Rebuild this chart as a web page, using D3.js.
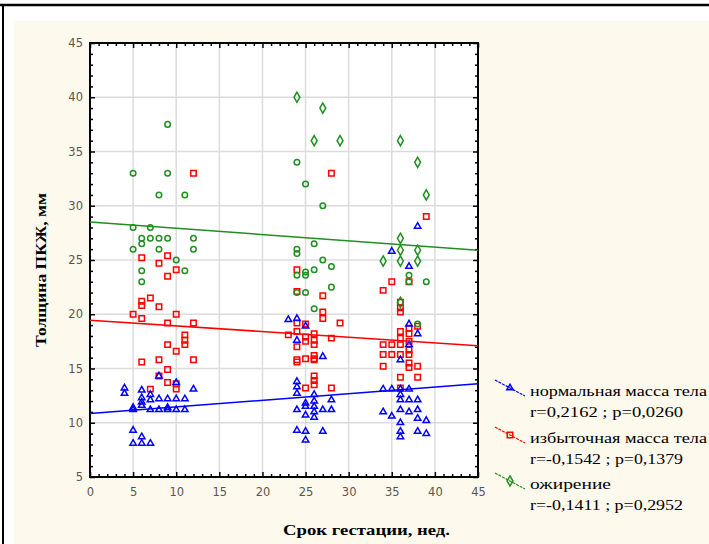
<!DOCTYPE html>
<html>
<head>
<meta charset="utf-8">
<script src="https://cdn.jsdelivr.net/npm/d3@7"></script>
<style>
  body { margin: 0; background: #ffffff; }
</style>
</head>
<body>
<div id="chart"></div>
<script>
// points: [gestation week, thickness mm]
var normalPts = [
  [4,13.2],[4,12.7],[6,13],[6,12.3],[7,12.6],[7,12.1],[8,14.3],[8,12.2],[9,12.2],[10,12.2],
  [11,12.2],[10,13.7],[12,13.1],[6,11.9],[5,11.4],[5,11.2],[7,11.2],[8,11.2],[9,11.2],[10,11.2],
  [11,11.2],[9,11.4],[6,11.6],[5,9.3],[5,8.1],[6,8.7],[6,8.1],[7,8.1],
  [23,19.5],[24,19.6],[25,18.9],[24,17.6],[27,16.1],[24,13.8],[24,13.3],[24,12.7],[25,11.8],[25,11.5],
  [25,10.7],[24,11.2],[26,12.6],[26,12],[26,11.5],[26,11],[26,10.5],[27,11.2],[28,12.1],[28,11.2],
  [24,9.3],[25,9.2],[25,8.4],[27,9.2],
  [38,28.1],[35,25.8],[37,24.4],[37,19.1],[38,18.2],[37,17.2],[36,15.8],[34,13.1],[35,13.1],[36,13.1],
  [37,13.1],[36,12.6],[36,12.1],[37,12.1],[38,12.1],[36,11.2],[37,11],[38,11.2],[34,11],[35,10.6],
  [36,10],[38,10.4],[39,10.2],[36,9.2],[36,8.7],[38,9.2],[39,9]
];
var excessPts = [
  [12,33],[6,25.2],[8,24.7],[9,25.4],[10,24.1],[9,23.5],[6,21.2],[7,21.5],[6,20.8],[8,20.7],
  [5,20],[6,19.6],[10,20],[9,19.2],[12,19.2],[11,18.1],[11,17.6],[11,17.2],[9,17.2],[10,16.6],
  [6,15.6],[8,15.8],[12,15.8],[9,14.9],[8,14.3],[9,13.7],[10,13.6],[10,13.1],[7,13.1],
  [28,33],[24,24.1],[24,22.1],[27,21.7],[27,20.2],[27,19.6],[29,19.2],[24,19.2],[25,19.1],[23,18.1],
  [24,18.4],[25,17.9],[25,17.5],[26,18.2],[26,17.6],[26,17.2],[28,17.8],[24,17],[24,15.8],[24,15.6],
  [25,15.9],[26,16.2],[26,15.9],[26,15.8],[26,14.3],[26,13.9],[26,13.5],[25,13.2],[28,13.2],
  [39,29],[35,23],[37,23],[34,22.2],[36,21.1],[36,20.6],[36,20.2],[37,18.7],[37,18.2],[38,18.9],
  [36,18.4],[36,17.8],[34,17.2],[35,17.2],[36,17.2],[37,17.5],[34,16.3],[35,16.3],[36,16.3],[37,16.7],
  [37,16.3],[37,15.5],[37,15.1],[38,15.2],[34,15.2],[36,14.2],[38,14.2],[36,13.2]
];
var obeseCirclePts = [
  [5,33],[9,33],[9,37.5],[8,31],[11,31],[5,28],[7,28],[6,27],[7,27],[8,27],
  [9,27],[12,27],[6,26.5],[8,26],[12,26],[5,26],[10,25],[11,24],[6,24],[6,23],
  [24,34],[25,32],[27,30],[24,26],[24,25.6],[26,26.5],[24,23.6],[25,23.9],[25,23.6],[26,24.1],
  [27,25],[28,24.4],[28,22.5],[24,22],[25,22],[26,20.5],
  [37,23.6],[37,23],[39,23],[38,19.1]
];
var obeseDiamondPts = [
  [24,40],[27,39],[26,36],[29,36],[36,36],[38,34],[39,31],[36,27],[36,25.9],[38,25.9],
  [34,24.9],[36,24.9],[38,24.9],[36,21.1]
];

// fitted lines, value at x = 0 and x = 45
var fitX = [0, 45];
var normalFit = [10.85, 13.6];
var excessFit = [19.45, 17.1];
var obeseFit = [28.5, 25.9];

var legendNames = ['нормальная масса тела', 'избыточная масса тела', 'ожирение'];
var legendStats = ['r=0,2162 ; p=0,0260', 'r=-0,1542 ; p=0,1379', 'r=-0,1411 ; p=0,2952'];

var xTitle = 'Срок гестации, нед.';
var yTitle = 'Толщина ПКЖ, мм';

var width = 709;
var height = 544;
var blue = '#0000ff', red = '#ff0000', green = '#1f8f1f';

var svg = d3.select('#chart').append('svg')
      .attr('width', width)
      .attr('height', height)
      .style('display', 'block')

// page frame and beige graph background
svg.append('rect').attr('x', 14).attr('y', 21).attr('width', width - 14).attr('height', height - 21)
      .attr('fill', '#fdf9ed')
svg.append('line').attr('x1', 0).attr('x2', width).attr('y1', 5).attr('y2', 5)
      .attr('stroke', '#000').attr('stroke-width', 2.5)
svg.append('line').attr('x1', 3).attr('x2', 3).attr('y1', 5).attr('y2', height)
      .attr('stroke', '#000').attr('stroke-width', 2)

var xScale = d3.scaleLinear().domain([0, 45]).range([90, 478])
var yScale = d3.scaleLinear().domain([5, 45]).range([477, 43])

// white plot area
svg.append('rect')
      .attr('x', xScale(0)).attr('y', yScale(45))
      .attr('width', xScale(45) - xScale(0)).attr('height', yScale(5) - yScale(45))
      .attr('fill', '#fff')

// grid at the major ticks
var grid = svg.append('g').attr('stroke', '#dcdcdc').attr('stroke-width', 1.5)
grid.selectAll('.gx').data(d3.range(5, 45, 5)).enter().append('line')
      .attr('x1', d => xScale(d)).attr('x2', d => xScale(d))
      .attr('y1', yScale(45)).attr('y2', yScale(5))
grid.selectAll('.gy').data(d3.range(10, 45, 5)).enter().append('line')
      .attr('y1', d => yScale(d)).attr('y2', d => yScale(d))
      .attr('x1', xScale(0)).attr('x2', xScale(45))

// axes: majors every 5, minors every 1, all pointing inwards
var xMajor = d3.range(0, 46, 5);
var yMajor = d3.range(5, 46, 5);
var xMinor = d3.range(0, 46).filter(d => d % 5);
var yMinor = d3.range(5, 46).filter(d => d % 5);

function drawAxis(axis, tx, ty) {
      var g = svg.append('g')
            .attr('transform', 'translate(' + tx + ',' + ty + ')')
            .call(axis)
      g.select('.domain').remove()
      g.selectAll('line').attr('stroke', '#000').attr('stroke-width', 1.5)
      g.selectAll('text').attr('fill', '#5a5550').style('font-family', 'Tahoma, "DejaVu Sans", sans-serif').style('font-size', '11.5px')
      return g
}

drawAxis(d3.axisBottom(xScale).tickValues(xMajor).tickSize(-5).tickPadding(11), 0, yScale(5))
drawAxis(d3.axisBottom(xScale).tickValues(xMinor).tickSize(-3).tickFormat(''), 0, yScale(5))
drawAxis(d3.axisTop(xScale).tickValues(xMajor).tickSize(-5).tickFormat(''), 0, yScale(45))
drawAxis(d3.axisTop(xScale).tickValues(xMinor).tickSize(-3).tickFormat(''), 0, yScale(45))
drawAxis(d3.axisLeft(yScale).tickValues(yMajor).tickSize(-5).tickPadding(7), xScale(0), 0)
drawAxis(d3.axisLeft(yScale).tickValues(yMinor).tickSize(-3).tickFormat(''), xScale(0), 0)
drawAxis(d3.axisRight(yScale).tickValues(yMajor).tickSize(-5).tickFormat(''), xScale(45), 0)
drawAxis(d3.axisRight(yScale).tickValues(yMinor).tickSize(-3).tickFormat(''), xScale(45), 0)

// plot frame
svg.append('rect')
      .attr('x', xScale(0)).attr('y', yScale(45))
      .attr('width', xScale(45) - xScale(0)).attr('height', yScale(5) - yScale(45))
      .attr('fill', 'none').attr('stroke', '#000').attr('stroke-width', 2)

// markers
var triangle = d3.symbol().type(d3.symbolTriangle).size(18);
var square = d3.symbol().type(d3.symbolSquare).size(30);
var circle = d3.symbol().type(d3.symbolCircle).size(24);
var diamond = d3.symbol().type(d3.symbolDiamond).size(30);

function drawPoints(pts, shape, color) {
      svg.append('g').selectAll('path')
            .data(pts)
            .enter()
            .append('path')
            .attr('d', shape)
            .attr('transform', d => 'translate(' + xScale(d[0]) + ',' + yScale(d[1]) + ')')
            .attr('fill', 'none')
            .attr('stroke', color)
            .attr('stroke-width', 1.5)
}

drawPoints(excessPts, square, red)
drawPoints(normalPts, triangle, blue)
drawPoints(obeseCirclePts, circle, green)
drawPoints(obeseDiamondPts, diamond, green)

// regression lines
var line = d3.line().x((d, i) => xScale(fitX[i])).y(d => yScale(d))
;[[normalFit, blue], [excessFit, red], [obeseFit, green]].forEach(function (f) {
      svg.append('path').attr('d', line(f[0]))
            .attr('fill', 'none').attr('stroke', f[1]).attr('stroke-width', 1.5)
})

// axis titles
svg.append('text')
      .attr('x', 283).attr('y', 535)
      .attr('textLength', 167).attr('lengthAdjust', 'spacingAndGlyphs')
      .style('font-family', '"Liberation Serif", "Times New Roman", serif')
      .style('font-weight', 'bold').style('font-size', '15px')
      .text(xTitle)

svg.append('text')
      .attr('transform', 'translate(46,270) rotate(-90)')
      .style('text-anchor', 'middle')
      .attr('textLength', 154).attr('lengthAdjust', 'spacingAndGlyphs')
      .style('font-family', '"Liberation Serif", "Times New Roman", serif')
      .style('font-weight', 'bold').style('font-size', '15px')
      .text(yTitle)

// legend
var legendColors = [blue, red, green];
var legendShapes = [triangle, square, diamond];
var legendTop = [380, 427, 473];
var nameWidth = [177, 177, 81];
legendNames.forEach(function (name, i) {
      var y0 = legendTop[i];
      svg.append('line')
            .attr('x1', 495).attr('y1', y0).attr('x2', 525).attr('y2', y0 + 16)
            .attr('stroke', legendColors[i]).attr('stroke-width', 1.2).attr('stroke-dasharray', '3,1')
      svg.append('path').attr('d', legendShapes[i])
            .attr('transform', 'translate(510,' + (y0 + 8) + ')')
            .attr('fill', 'none').attr('stroke', legendColors[i]).attr('stroke-width', 1.5)
      svg.append('text')
            .attr('x', 530).attr('y', y0 + 16)
            .attr('textLength', nameWidth[i]).attr('lengthAdjust', 'spacingAndGlyphs')
            .style('font-family', '"Liberation Serif", "Times New Roman", serif').style('font-size', '15px')
            .text(name)
      svg.append('text')
            .attr('x', 530).attr('y', y0 + 37)
            .attr('textLength', 153).attr('lengthAdjust', 'spacingAndGlyphs')
            .style('font-family', '"Liberation Serif", "Times New Roman", serif').style('font-size', '15px')
            .text(legendStats[i])
})
</script>
</body>
</html>
